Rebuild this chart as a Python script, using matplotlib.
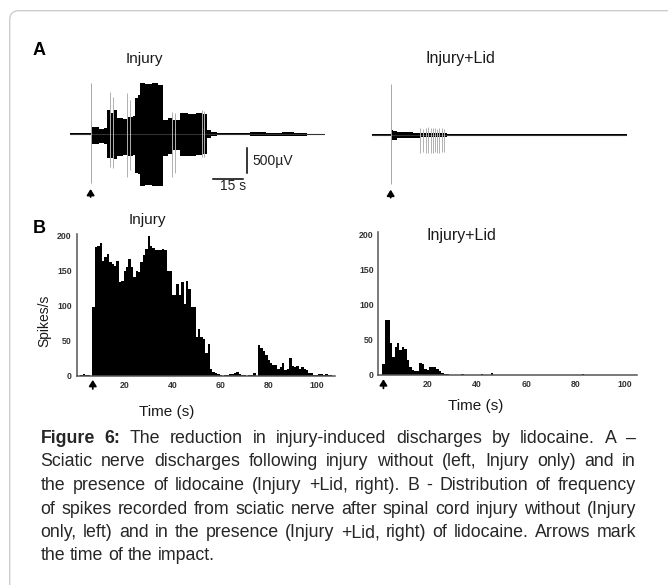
import numpy as np
import matplotlib
matplotlib.use('Agg')
import matplotlib.pyplot as plt
from matplotlib.patches import FancyBboxPatch
from matplotlib.transforms import IdentityTransform

W, H = 668, 585
plt.rcParams['font.family'] = ['Liberation Sans', 'DejaVu Sans']

# ---------------- data ----------------
# B: spikes per 1-s bin (bin k centred at k seconds)
inj_rate = [1, 0, 1, 2, 1, 1, 0, 98, 184, 186, 189, 164, 169, 174, 162, 160, 157, 164,
            134, 135, 150, 155, 167, 155, 141, 150, 148, 162, 172, 181, 200, 186, 183,
            180, 179, 179, 181, 179, 150, 150, 115, 115, 131, 115, 134, 103, 136, 124,
            98, 98, 55, 67, 55, 53, 32, 46, 10, 6, 4, 3, 1, 0, 1, 1, 2, 3, 4, 5, 3, 1,
            1, 0, 1, 1, 4, 0, 44, 39, 36, 29, 23, 18, 15, 15, 10, 13, 18, 8, 10, 26, 14,
            13, 14, 10, 13, 10, 8, 4, 4, 1, 1, 2, 2, 1, 3, 1, 1]
lid_rate = [0, 0, 16, 78, 78, 46, 26, 40, 46, 36, 40, 37, 21, 12, 7, 5, 5, 17, 16, 9,
            7, 12, 12, 12, 8, 5, 3, 1, 1, 0.5, 0, 0, 0, 0, 2, 0.5, 0, 0, 0, 0, 0, 0, 1,
            0.5, 0, 0, 3] + [0] * 36 + [1] + [0] * 20
hist_xticks = [20, 40, 60, 80, 100]
hist_yticks = [0, 50, 100, 150, 200]
inj_impact_B = 6.7
lid_impact_B = 2.0

# A: amplitude envelope of the raw recordings (time in s, voltage in uV)
inj_env_t = [0, 10.1, 11.0, 14, 16.5, 18, 20, 21.5, 23, 26, 28.5, 31, 32, 33.5, 34.3, 37,
             40, 43, 45.8, 48, 50.7, 54, 58, 62, 65, 67, 69, 72, 80, 88, 96, 104, 110,
             116, 125]
inj_env_hi = [20, 250, 140, 110, 130, 490, 430, 480, 330, 300, 340, 360, 720, 780, 1020,
              1000, 1020, 990, 290, 330, 280, 420, 400, 430, 400, 80, 45, 20, 25, 45, 35,
              45, 30, 12, 12]
inj_env_lo = [-20, -150, -190, -170, -200, -480, -470, -490, -430, -410, -440, -420, -780,
              -800, -1030, -1020, -1030, -1030, -440, -400, -320, -430, -440, -420, -400,
              -70, -40, -20, -20, -40, -35, -40, -30, -12, -12]
inj_spk_t = [19.6, 20.9, 28.1, 29.4, 49.8, 51.5, 64.5, 65.7]
inj_spk_hi = [850, 750, 820, 690, 450, 420, 490, 470]
inj_spk_lo = [-650, -680, -850, -710, -850, -780, -450, -460]
inj_impact_A = 10.1

lid_env_t = [0, 9.3, 10.5, 12.2, 16, 20, 23.7, 36.7, 46.5, 125]
lid_env_hi = [13, 100, 80, 55, 60, 50, 45, 25, 13, 13]
lid_env_lo = [-13, -100, -90, -60, -65, -55, -45, -25, -13, -13]
lid_spk_t = [23.7, 25.0, 26.6, 27.8, 28.9, 30.2, 31.2, 32.2, 33.2, 34.5, 35.4]
lid_spk_hi = [150, 120, 150, 160, 150, 140, 150, 130, 150, 140, 120]
lid_spk_lo = [-350, -340, -350, -360, -350, -350, -340, -350, -350, -340, -330]
lid_impact_A = 9.3

caption_lines = [
    "Figure 6: The reduction in injury-induced discharges by lidocaine. A \u2013",
    "Sciatic nerve discharges following injury without (left, Injury only) and in",
    "the presence of lidocaine (Injury +Lid, right). B - Distribution of frequency",
    "of spikes recorded from sciatic nerve after spinal cord injury without (Injury",
    "only, left) and in the presence (Injury +Lid, right) of lidocaine. Arrows mark",
    "the time of the impact.",
]

# ---------------- figure ----------------
fig = plt.figure(figsize=(W / 100, H / 100), dpi=100)


def box(l, t, r, b):
    return [l / W, 1 - b / H, (r - l) / W, (b - t) / H]


def fx(x):
    return x / W


def fy(y):
    return 1 - y / H


border = FancyBboxPatch((9.7, -60), 720, H - 10.7 + 60,
                        boxstyle='round,pad=0,rounding_size=9',
                        transform=IdentityTransform(), fill=False,
                        ec='#c9c9c9', lw=0.9)
fig.add_artist(border)


def trace_axes(rect, env_t, hi, lo, spk_t, spk_hi, spk_lo, impact):
    ax = fig.add_axes(rect)
    ax.set_xlim(0, 125)
    ax.set_ylim(-1100, 1100)
    ax.axis('off')
    ax.plot([env_t[0], env_t[-1]], [0, 0], color='#333333', lw=0.8)
    ax.vlines(spk_t, spk_lo, spk_hi, color='#b0b0b0', lw=0.7)
    ax.fill_between(env_t, lo, hi, step='post', color='black', lw=0)
    ax.vlines([impact], [-980], [1020], color='#a8a8a8', lw=0.7)
    ax.annotate('', xy=(impact, -1094), xytext=(impact, -1254),
                arrowprops=dict(arrowstyle='-|>,head_width=0.22,head_length=0.35',
                                color='black', lw=1.3, shrinkA=0, shrinkB=0,
                                mutation_scale=10),
                annotation_clip=False)
    return ax


axA1 = trace_axes(box(70, 79.3, 325, 189.3), inj_env_t, inj_env_hi, inj_env_lo,
                  inj_spk_t, inj_spk_hi, inj_spk_lo, inj_impact_A)
axA2 = trace_axes(box(371.7, 80, 626.7, 190), lid_env_t, lid_env_hi, lid_env_lo,
                  lid_spk_t, lid_spk_hi, lid_spk_lo, lid_impact_A)

# scale bars
axA1.plot([86.6, 86.6], [-274, -774], color='black', lw=1.1, clip_on=False)
axA1.plot([70, 85], [-894, -894], color='black', lw=1.1, clip_on=False)
axA1.text(89.2, -534, '500\u00b5V', fontsize=10, va='center', ha='left', color='#222')
axA1.text(80, -1114, '15 s', fontsize=10, va='baseline', ha='center', color='#222',
          clip_on=False)


def hist_axes(rect, rate, xmax, impact):
    ax = fig.add_axes(rect)
    edges = np.arange(len(rate) + 1) - 0.5
    ax.stairs(rate, edges, fill=True, color='black', lw=0)
    ax.set_xlim(0, xmax)
    ax.set_ylim(0, 203)
    for s in ['top', 'right']:
        ax.spines[s].set_visible(False)
    for s in ['left', 'bottom']:
        ax.spines[s].set_color('#555555')
        ax.spines[s].set_linewidth(1.1)
    ax.set_xticks(hist_xticks)
    ax.set_yticks(hist_yticks)
    ax.tick_params(length=0, labelsize=6.3, pad=3.5, colors='#333333')
    for lbl in ax.get_xticklabels() + ax.get_yticklabels():
        lbl.set_fontweight('bold')
    ax.annotate('', xy=(impact, -6), xytext=(impact, -19),
                arrowprops=dict(arrowstyle='-|>,head_width=0.22,head_length=0.35',
                                color='black', lw=1.3, shrinkA=0, shrinkB=0,
                                mutation_scale=10),
                annotation_clip=False)
    return ax


axB1 = hist_axes(box(76.7, 233.6, 334.7, 375.7), inj_rate, 107.5, inj_impact_B)
axB2 = hist_axes(box(378.5, 232.2, 636.7, 375), lid_rate, 104.7, lid_impact_B)

# texts
tc = '#1a1a1a'
fig.text(fx(33), fy(55), 'A', fontsize=13, fontweight='bold', va='baseline', color='black')
fig.text(fx(33), fy(233), 'B', fontsize=13, fontweight='bold', va='baseline', color='black')
fig.text(fx(144), fy(62.5), 'Injury', fontsize=11, ha='center', va='baseline', color=tc)
fig.text(fx(460), fy(63.3), 'Injury+Lid', fontsize=11.5, ha='center', va='baseline', color=tc)
fig.text(fx(147.5), fy(224), 'Injury', fontsize=11, ha='center', va='baseline', color=tc)
fig.text(fx(461), fy(240), 'Injury+Lid', fontsize=11.5, ha='center', va='baseline', color=tc)
fig.text(fx(44.3), fy(320.7), 'Spikes/s', fontsize=10, ha='center', va='center',
         rotation=90, color=tc)
fig.text(fx(167), fy(412), 'Time (s)', fontsize=11, ha='center', va='center', color=tc)
fig.text(fx(476), fy(406), 'Time (s)', fontsize=11, ha='center', va='center', color=tc)

# justified caption
fig.canvas.draw()
renderer = fig.canvas.get_renderer()
cap_left, cap_right = 40.5, 636
cap_base = [443, 466.5, 490, 513.5, 537, 560.5]
cap_color = '#262626'


def natural_width(line, size, first):
    t = fig.text(0, 0, line, fontsize=size)
    w = t.get_window_extent(renderer).width
    t.remove()
    if first:
        tb = fig.text(0, 0, 'Figure 6:', fontsize=size, fontweight='bold')
        tn = fig.text(0, 0, 'Figure 6:', fontsize=size)
        w += tb.get_window_extent(renderer).width - tn.get_window_extent(renderer).width
        tb.remove()
        tn.remove()
    return w


ref_size = 12.0
nat = max(natural_width(l, ref_size, i == 0) for i, l in enumerate(caption_lines[:-1]))
cap_size = ref_size * (cap_right - cap_left) * 0.985 / nat

for i, line in enumerate(caption_lines):
    words = line.split(' ')
    texts = []
    for j, w in enumerate(words):
        bold = (i == 0 and j < 2)
        t = fig.text(0, fy(cap_base[i]), w, fontsize=cap_size,
                     fontweight='bold' if bold else 'normal',
                     ha='left', va='baseline', color=cap_color)
        texts.append(t)
    widths = [t.get_window_extent(renderer).width for t in texts]
    if i < len(caption_lines) - 1:
        gap = (cap_right - cap_left - sum(widths)) / (len(words) - 1)
    else:
        sp = fig.text(0, 0, 'a a', fontsize=cap_size)
        sp2 = fig.text(0, 0, 'aa', fontsize=cap_size)
        gap = sp.get_window_extent(renderer).width - sp2.get_window_extent(renderer).width
        sp.remove()
        sp2.remove()
    x = cap_left
    for t, w in zip(texts, widths):
        t.set_x(fx(x))
        x += w + gap

fig.savefig('out.png', dpi=100)
